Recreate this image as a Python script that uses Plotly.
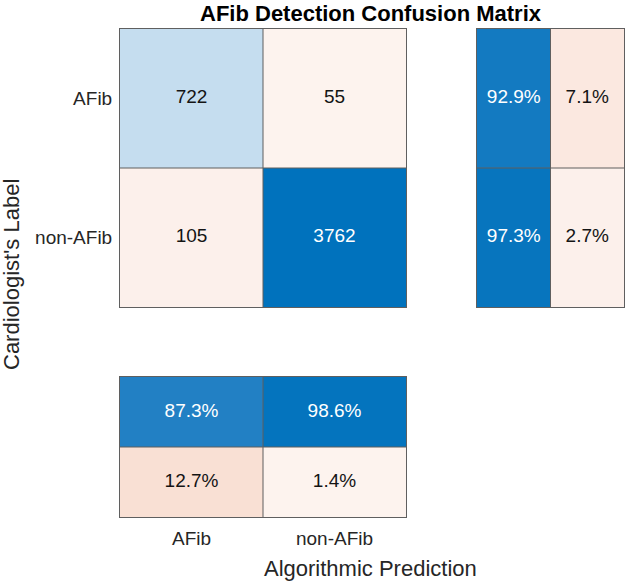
import plotly.graph_objects as go

# ---- data ----
classes = ["AFib", "non-AFib"]
counts = [[722, 55],
          [105, 3762]]
row_pct = [[92.9, 7.1],      # row summary: correct, incorrect
           [97.3, 2.7]]
col_pct = [[87.3, 98.6],     # column summary: correct
           [12.7, 1.4]]      # column summary: incorrect
title_text = "AFib Detection Confusion Matrix"
xlabel = "Algorithmic Prediction"
ylabel = "Cardiologist's Label"

# ---- styles ----
FONT = "Liberation Sans, Arial, sans-serif"
BORDER = "rgb(95,95,95)"
DARK = "rgb(20,20,20)"
blue_scale = [[0, "rgb(255,255,255)"], [0.19, "rgb(197,221,239)"],
              [0.87, "rgb(35,128,196)"], [1, "rgb(0,114,189)"]]
red_scale = [[0, "rgb(254,247,244)"], [0.014, "rgb(253,243,238)"],
             [0.028, "rgb(252,240,235)"], [0.071, "rgb(251,232,224)"],
             [0.127, "rgb(249,224,212)"], [1, "rgb(217,83,25)"]]

def split(mat, keep):
    return [[mat[i][j] if keep(i, j) else None for j in range(2)] for i in range(2)]

fig = go.Figure()

def add_panel(z, diag, xa, ya, zmax, fmt):
    zb = split(z, diag)
    zr = split(z, lambda i, j: not diag(i, j))
    for zz, cs in ((zb, blue_scale), (zr, red_scale)):
        fig.add_trace(go.Heatmap(
            z=zz, x=classes, y=classes, xaxis=xa, yaxis=ya,
            colorscale=cs, zmin=0, zmax=zmax, showscale=False,
            hoverongaps=False))
    xs, ys, txt, cols = [], [], [], []
    for i in range(2):
        for j in range(2):
            xs.append(classes[j]); ys.append(classes[i])
            txt.append(fmt(z[i][j]))
            cols.append("white" if (diag(i, j) and z[i][j] / zmax > 0.5) else DARK)
    fig.add_trace(go.Scatter(x=xs, y=ys, xaxis=xa, yaxis=ya, mode="text", text=txt,
                             textposition="middle center", hoverinfo="skip",
                             textfont=dict(family=FONT, size=19, color=cols)))

# main matrix
add_panel(counts, lambda i, j: i == j, "x", "y", max(max(r) for r in counts),
          lambda v: f"{v:d}")
# row summary (right)
add_panel(row_pct, lambda i, j: j == 0, "x2", "y2", 100, lambda v: f"{v:.1f}%")
# column summary (bottom)
add_panel(col_pct, lambda i, j: i == 0, "x3", "y3", 100, lambda v: f"{v:.1f}%")

W, H = 625, 584
def dom_x(a, b): return [a / W, b / W]
def dom_y(top, bot): return [1 - bot / H, 1 - top / H]

ax_common = dict(showline=True, mirror=True, linecolor=BORDER, linewidth=1,
                 showgrid=False, zeroline=False, ticks="", fixedrange=True)
tickfont = dict(family=FONT, size=19, color="rgb(38,38,38)")

fig.update_layout(
    width=W, height=H, margin=dict(l=0, r=0, t=0, b=0),
    paper_bgcolor="white", plot_bgcolor="white", showlegend=False,
    xaxis=dict(domain=dom_x(120, 406), showticklabels=False, **ax_common),
    yaxis=dict(domain=dom_y(29, 307), autorange="reversed", tickfont=tickfont,
               ticklabelstandoff=3, **ax_common),
    xaxis2=dict(domain=dom_x(477, 624), showticklabels=False, anchor="y2", **ax_common),
    yaxis2=dict(domain=dom_y(29, 307), autorange="reversed", showticklabels=False,
                anchor="x2", **ax_common),
    xaxis3=dict(domain=dom_x(120, 406), anchor="y3", tickfont=tickfont,
                ticklabelstandoff=4, **ax_common),
    yaxis3=dict(domain=dom_y(377, 517), autorange="reversed", showticklabels=False,
                anchor="x3", **ax_common),
)

# inner cell borders
for xr, yr in (("x", "y"), ("x2", "y2"), ("x3", "y3")):
    fig.add_shape(type="line", xref=xr, yref=yr + " domain", x0=0.5, x1=0.5, y0=0, y1=1,
                  line=dict(color=BORDER, width=1), layer="above")
    fig.add_shape(type="line", xref=xr + " domain", yref=yr, x0=0, x1=1, y0=0.5, y1=0.5,
                  line=dict(color=BORDER, width=1), layer="above")

# titles
fig.add_annotation(text="<b>" + title_text + "</b>", xref="paper", yref="paper",
                   x=371 / W, y=1 - 14 / H, xanchor="center", yanchor="middle",
                   showarrow=False, font=dict(family=FONT, size=22, color="black"))
fig.add_annotation(text=xlabel, xref="paper", yref="paper",
                   x=370 / W, y=1 - 568 / H, xanchor="center", yanchor="middle",
                   showarrow=False, font=dict(family=FONT, size=22, color="rgb(38,38,38)"))
fig.add_annotation(text=ylabel, xref="paper", yref="paper", textangle=-90,
                   x=12 / W, y=1 - 275 / H, xanchor="center", yanchor="middle",
                   showarrow=False, font=dict(family=FONT, size=22, color="rgb(38,38,38)"))

fig.write_html("out.html", config={"displayModeBar": False},
               post_script="document.body.style.margin='0';document.body.style.overflow='hidden';")
